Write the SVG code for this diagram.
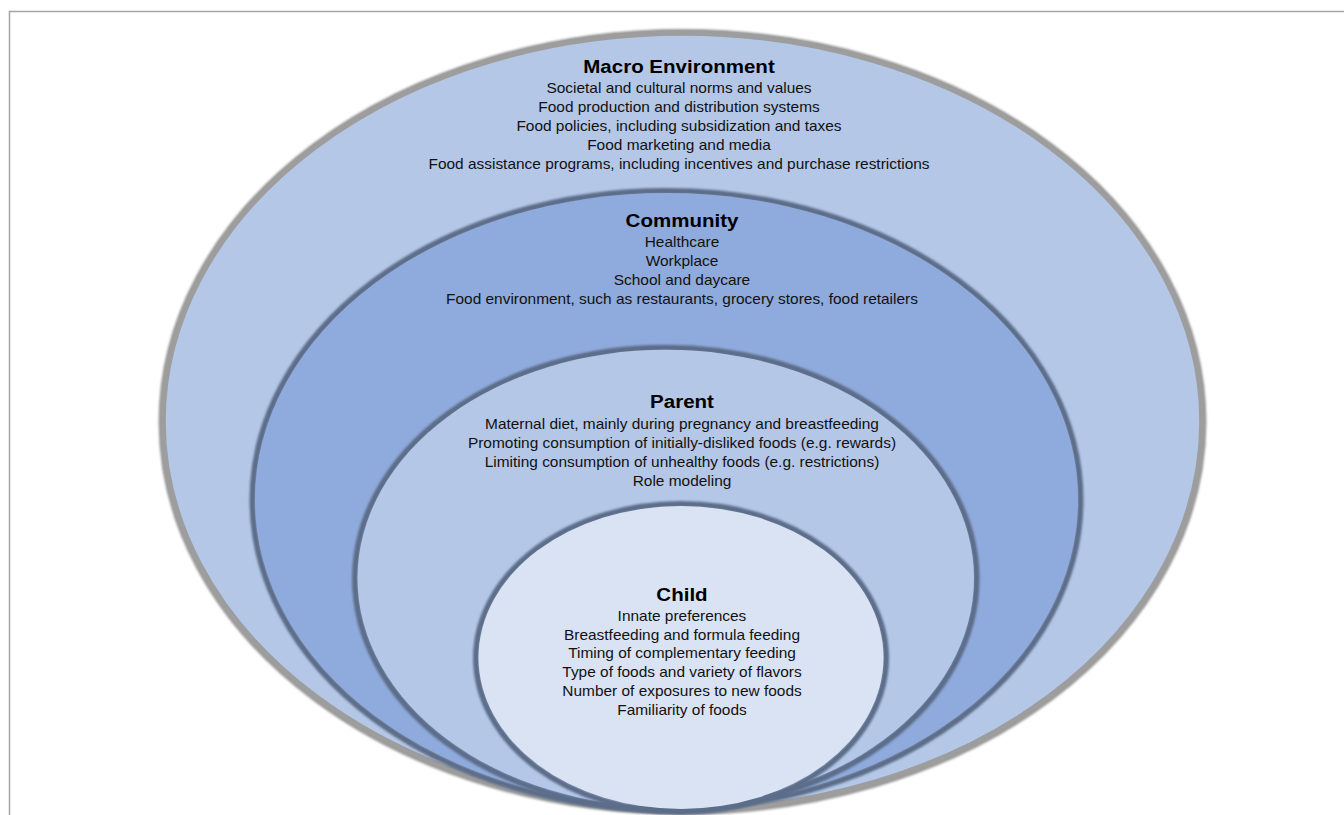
<svg xmlns="http://www.w3.org/2000/svg" width="1344" height="815" viewBox="0 0 1344 815">
<style>
.t{font-family:"Liberation Sans",Arial,sans-serif;font-size:14.3px;fill:#111;text-anchor:middle}
.h{font-family:"Liberation Sans",Arial,sans-serif;font-size:19px;font-weight:bold;fill:#000;text-anchor:middle}
.edge{fill:none;stroke:#5c6d89;stroke-width:6}
</style>
<defs>
<filter id="soft" x="-5%" y="-5%" width="110%" height="110%"><feGaussianBlur stdDeviation="1.3"/></filter>
</defs>
<rect width="1344" height="815" fill="#fff"/>
<path d="M9.5 815 V11.5 H1344" fill="none" stroke="#a4a4a4" stroke-width="1.5"/>

<g id="macro">
<ellipse cx="682.5" cy="422" rx="520" ry="389" fill="none" stroke="#9a9a9a" stroke-width="8" filter="url(#soft)"/>
<ellipse cx="682.5" cy="421.5" rx="519.5" ry="388.5" fill="#B4C7E7" stroke="#9d9d9d" stroke-width="5.5"/>
<g transform="matrix(1.08 0 0 1 -54.32 0)">
<text class="h" x="679" y="72.7">Macro Environment</text>
<text class="t" x="679" y="93.3">Societal and cultural norms and values</text>
<text class="t" x="679" y="112.2">Food production and distribution systems</text>
<text class="t" x="679" y="131.1">Food policies, including subsidization and taxes</text>
<text class="t" x="679" y="150">Food marketing and media</text>
<text class="t" x="679" y="169">Food assistance programs, including incentives and purchase restrictions</text>
</g>
</g>

<g id="community">
<ellipse class="edge" cx="666.5" cy="500" rx="414" ry="309" filter="url(#soft)"/>
<ellipse cx="666.5" cy="499.5" rx="411.5" ry="306.5" fill="#8FAADC"/>
<g transform="matrix(1.08 0 0 1 -54.56 0)">
<text class="h" x="682" y="227.5">Community</text>
<text class="t" x="682" y="247.5">Healthcare</text>
<text class="t" x="682" y="266.3">Workplace</text>
<text class="t" x="682" y="285.2">School and daycare</text>
<text class="t" x="682" y="304">Food environment, such as restaurants, grocery stores, food retailers</text>
</g>
</g>

<g id="parent">
<ellipse class="edge" cx="665.75" cy="578.75" rx="310.75" ry="231" filter="url(#soft)"/>
<ellipse cx="665.75" cy="578.25" rx="308.25" ry="228.5" fill="#B4C7E7"/>
<g transform="matrix(1.08 0 0 1 -54.56 0)">
<text class="h" x="682" y="408.3">Parent</text>
<text class="t" x="682" y="429.2">Maternal diet, mainly during pregnancy and breastfeeding</text>
<text class="t" x="682" y="448.1">Promoting consumption of initially-disliked foods (e.g. rewards)</text>
<text class="t" x="682" y="467">Limiting consumption of unhealthy foods (e.g. restrictions)</text>
<text class="t" x="682" y="485.9">Role modeling</text>
</g>
</g>

<g id="child">
<ellipse class="edge" cx="681" cy="658" rx="205" ry="154" filter="url(#soft)"/>
<ellipse cx="681" cy="657.5" rx="202.5" ry="151.5" fill="#DAE3F3"/>
<g transform="matrix(1.08 0 0 1 -54.56 0)">
<text class="h" x="682" y="600.6">Child</text>
<text class="t" x="682" y="620.7">Innate preferences</text>
<text class="t" x="682" y="639.6">Breastfeeding and formula feeding</text>
<text class="t" x="682" y="658.5">Timing of complementary feeding</text>
<text class="t" x="682" y="677.4">Type of foods and variety of flavors</text>
<text class="t" x="682" y="696.3">Number of exposures to new foods</text>
<text class="t" x="682" y="715.2">Familiarity of foods</text>
</g>
</g>
</svg>
